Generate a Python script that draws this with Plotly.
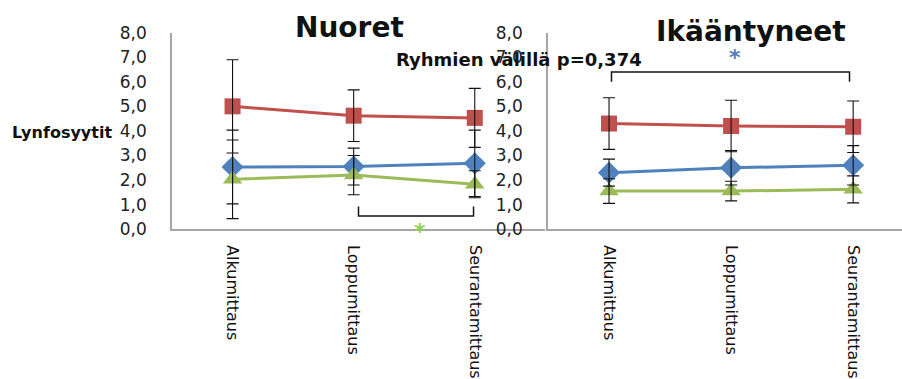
import plotly.graph_objects as go

# Measurement points
categories = ["Alkumittaus", "Loppumittaus", "Seurantamittaus"]

# Nuoret (young) group: means and SDs per series
young_red = [5.0, 4.62, 4.53]
young_red_err = [1.9, 1.05, 1.2]
young_blue = [2.53, 2.55, 2.68]
young_blue_err = [1.5, 0.75, 1.35]
young_green = [2.03, 2.2, 1.83]
young_green_err = [1.6, 0.8, 0.55]

# Ikääntyneet (elderly) group
old_red = [4.3, 4.2, 4.17]
old_red_err = [1.05, 1.05, 1.05]
old_blue = [2.3, 2.5, 2.6]
old_blue_err = [0.55, 0.7, 0.8]
old_green = [1.55, 1.55, 1.62]
old_green_err = [0.5, 0.4, 0.55]

# Y tick values and labels (Finnish decimal comma)
y_ticks = [0, 1, 2, 3, 4, 5, 6, 7, 8]
y_tick_text = ["0,0", "1,0", "2,0", "3,0", "4,0", "5,0", "6,0", "7,0", "8,0"]

W, H = 902, 379
RED, BLUE, GREEN = "#C0504D", "#4F81BD", "#9BBB59"
AXIS_GREY = "#A6A6A6"
FONT = "DejaVu Sans"


def px_x(p):
    return p / W


def px_y(p):
    return 1 - p / H


fig = go.Figure()

series = [
    ("x", "y", young_red, young_red_err, RED, "square"),
    ("x", "y", young_blue, young_blue_err, BLUE, "diamond"),
    ("x", "y", young_green, young_green_err, GREEN, "triangle-up"),
    ("x2", "y2", old_red, old_red_err, RED, "square"),
    ("x2", "y2", old_blue, old_blue_err, BLUE, "diamond"),
    ("x2", "y2", old_green, old_green_err, GREEN, "triangle-up"),
]

# Lines with markers
for xa, ya, vals, err, col, sym in series:
    fig.add_trace(go.Scatter(
        x=categories, y=vals, xaxis=xa, yaxis=ya, mode="lines+markers",
        line=dict(color=col, width=3),
        marker=dict(symbol=sym, size=17 if sym != "square" else 16, color=col),
        cliponaxis=False, showlegend=False, hoverinfo="skip",
    ))

# Error bars drawn on top of all markers
for xa, ya, vals, err, col, sym in series:
    fig.add_trace(go.Scatter(
        x=categories, y=vals, xaxis=xa, yaxis=ya, mode="markers",
        marker=dict(size=1, opacity=0),
        error_y=dict(type="data", array=err, visible=True,
                     color="#111111", thickness=1.1, width=6),
        cliponaxis=False, showlegend=False, hoverinfo="skip",
    ))

y_common = dict(
    range=[0, 8], tickmode="array", tickvals=y_ticks, ticktext=y_tick_text,
    showgrid=False, zeroline=False, showline=True, linecolor=AXIS_GREY,
    linewidth=1.5, ticks="", ticklabelstandoff=20,
    tickfont=dict(family=FONT, size=17, color="#222222"),
    domain=[px_y(232), px_y(24)],
)
x_common = dict(
    type="category", showgrid=False, zeroline=False, showline=True,
    linecolor=AXIS_GREY, linewidth=1.5, ticks="", tickangle=90,
    ticklabelstandoff=11,
    tickfont=dict(family=FONT, size=16, color="#111111"),
)

fig.update_layout(
    width=W, height=H,
    margin=dict(l=0, r=0, t=0, b=0),
    paper_bgcolor="white", plot_bgcolor="rgba(0,0,0,0)",
    xaxis=dict(x_common, domain=[px_x(172), px_x(545)], range=[-0.5, 2.58],
               anchor="y"),
    yaxis=dict(y_common, anchor="x"),
    xaxis2=dict(x_common, domain=[px_x(548), 1.0], range=[-0.5, 2.4],
                anchor="y2"),
    yaxis2=dict(y_common, anchor="x2"),
)

# Significance brackets
fig.add_shape(type="path", xref="x", yref="y",
              path="M 1.04,0.92 L 1.04,0.54 L 1.99,0.54 L 1.99,0.92",
              line=dict(color="#111111", width=1.5))
fig.add_shape(type="path", xref="x2", yref="y2",
              path="M 0.02,6.0 L 0.02,6.4 L 1.97,6.4 L 1.97,6.0",
              line=dict(color="#111111", width=1.5))

annotations = [
    dict(text="<b>Nuoret</b>", x=px_x(349), y=px_y(19), size=28),
    dict(text="<b>Ikääntyneet</b>", x=px_x(751), y=px_y(23), size=28),
    dict(text="<b>Lynfosyytit</b>", x=px_x(62), y=px_y(130), size=16),
    dict(text="<b>Ryhmien välillä p=0,374</b>", x=px_x(519), y=px_y(52), size=18),
]
for a in annotations:
    fig.add_annotation(text=a["text"], x=a["x"], y=a["y"], xref="paper",
                       yref="paper", showarrow=False, xanchor="center",
                       yanchor="middle",
                       font=dict(family=FONT, size=a["size"], color="#111111"))

# Asterisks marking significant changes
fig.add_annotation(text="<b>*</b>", x=1.55, y=0.05, yshift=-4, xref="x", yref="y",
                   showarrow=False, font=dict(family=FONT, size=22, color="#92D050"))
fig.add_annotation(text="<b>*</b>", x=1.03, y=6.98, xref="x2", yref="y2",
                   showarrow=False, font=dict(family=FONT, size=22, color=BLUE))

fig.write_html("out.html")
